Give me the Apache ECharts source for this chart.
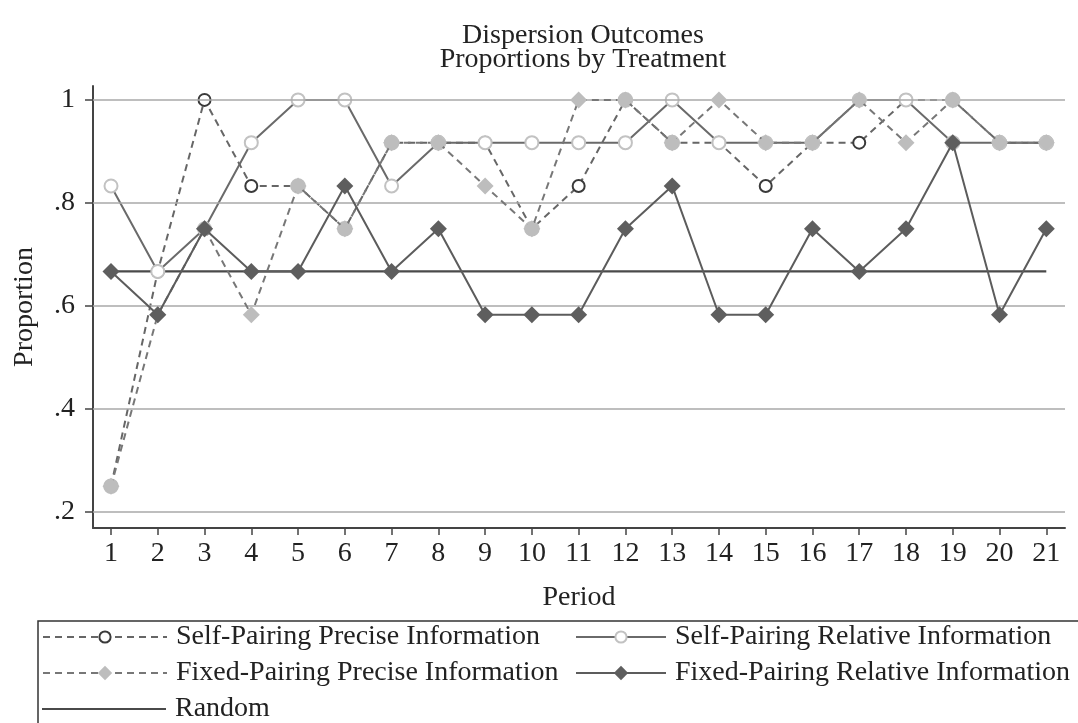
<!DOCTYPE html>
<html>
<head>
<meta charset="utf-8">
<title>Dispersion Outcomes</title>
<script src="https://cdn.jsdelivr.net/npm/echarts@6/dist/echarts.min.js"></script>
<style>
  html, body { margin: 0; padding: 0; background: #fff; }
  #chart { width: 1078px; height: 723px; }
</style>
</head>
<body>
<div id="chart"></div>
<script>
// Periods of the experiment
const periods = [1, 2, 3, 4, 5, 6, 7, 8, 9, 10, 11, 12, 13, 14, 15, 16, 17, 18, 19, 20, 21];

// Proportion of dispersed outcomes per period, by treatment
const selfPrecise   = [0.25, 0.667, 1, 0.833, 0.833, 0.75, 0.917, 0.917, 0.917, 0.75, 0.833, 1, 0.917, 0.917, 0.833, 0.917, 0.917, 1, 1, 0.917, 0.917];
const selfRelative  = [0.833, 0.667, 0.75, 0.917, 1, 1, 0.833, 0.917, 0.917, 0.917, 0.917, 0.917, 1, 0.917, 0.917, 0.917, 1, 1, 0.917, 0.917, 0.917];
const fixedPrecise  = [0.25, 0.583, 0.75, 0.583, 0.833, 0.75, 0.917, 0.917, 0.833, 0.75, 1, 1, 0.917, 1, 0.917, 0.917, 1, 0.917, 1, 0.917, 0.917];
const fixedRelative = [0.667, 0.583, 0.75, 0.667, 0.667, 0.833, 0.667, 0.75, 0.583, 0.583, 0.583, 0.75, 0.833, 0.583, 0.583, 0.75, 0.667, 0.75, 0.917, 0.583, 0.75];
const randomLevel   = [0.667, 0.667, 0.667, 0.667, 0.667, 0.667, 0.667, 0.667, 0.667, 0.667, 0.667, 0.667, 0.667, 0.667, 0.667, 0.667, 0.667, 0.667, 0.667, 0.667, 0.667];

// Axis ticks
const yTicks = [0.2, 0.4, 0.6, 0.8, 1];
const xTicks = periods;

const seriesNames = [
  'Self-Pairing Precise Information',
  'Self-Pairing Relative Information',
  'Fixed-Pairing Precise Information',
  'Fixed-Pairing Relative Information',
  'Random'
];

const FONT = '"Liberation Serif", "DejaVu Serif", serif';
const TEXT = '#222';
const LIGHT = '#bdbdbd';
const pairs = vals => periods.map((p, i) => [p, vals[i]]);

// Where the two precise-information series share a point, their markers
// merge into one light filled dot.
const selfPreciseData = periods.map((p, i) => {
  const v = selfPrecise[i];
  if (v === fixedPrecise[i]) {
    return { value: [p, v], symbol: 'circle', symbolSize: 14, itemStyle: { color: LIGHT, borderColor: LIGHT } };
  }
  return [p, v];
});

// One legend entry per key so the two-column layout stays fixed
function legendEntry(name, left, top, keyWidth, extra) {
  return Object.assign({
    data: [name],
    left: left, top: top,
    padding: 0,
    itemWidth: keyWidth, itemHeight: 14,
    textStyle: { fontFamily: FONT, fontSize: 28, color: TEXT, padding: [0, 0, 0, 4] }
  }, extra || {});
}

const chart = echarts.init(document.getElementById('chart'), null, { renderer: 'canvas' });

const dashed = { type: [7, 5] };

chart.setOption({
  animation: false,
  backgroundColor: '#ffffff',
  title: {
    text: 'Dispersion Outcomes\nProportions by Treatment',
    left: 578,
    textAlign: 'center',
    top: 19,
    textStyle: { fontFamily: FONT, fontSize: 28, fontWeight: 'normal', color: TEXT, lineHeight: 24 }
  },
  grid: { left: 93, right: 13, top: 86, bottom: 195, containLabel: false, outerBoundsMode: 'none' },
  xAxis: {
    type: 'value',
    min: 0.615,
    max: 21.4,
    name: 'Period',
    nameLocation: 'middle',
    nameGap: 56,
    nameTextStyle: { fontFamily: FONT, fontSize: 28, color: TEXT },
    axisLine: { show: true, onZero: false, lineStyle: { color: '#444', width: 2 } },
    axisTick: { show: true, length: 7, customValues: xTicks, lineStyle: { color: '#444', width: 1.5 } },
    axisLabel: { customValues: xTicks, margin: 12, fontFamily: FONT, fontSize: 28, color: TEXT },
    splitLine: { show: false }
  },
  yAxis: {
    type: 'value',
    min: 0.169,
    max: 1.027,
    name: 'Proportion',
    nameLocation: 'middle',
    nameGap: 54,
    nameTextStyle: { fontFamily: FONT, fontSize: 28, color: TEXT },
    axisLine: { show: true, onZero: false, lineStyle: { color: '#444', width: 2 } },
    axisTick: { show: true, length: 8, customValues: yTicks, lineStyle: { color: '#444', width: 1.5 } },
    axisLabel: {
      customValues: yTicks,
      margin: 18,
      fontFamily: FONT, fontSize: 28, color: TEXT,
      formatter: v => (v === 1 ? '1' : String(v).replace(/^0/, ''))
    },
    splitLine: { show: false }
  },
  legend: [
    legendEntry(seriesNames[0], 42, 623, 124),
    legendEntry(seriesNames[2], 42, 659, 124, { itemHeight: 18 }),
    legendEntry({ name: seriesNames[4], icon: 'rect' }, 42, 695, 124, { itemHeight: 2 }),
    legendEntry(seriesNames[1], 575, 623, 90),
    legendEntry(seriesNames[3], 575, 659, 90, { itemHeight: 18 })
  ],
  graphic: [
    {
      type: 'rect',
      shape: { x: 38, y: 621, width: 1100, height: 200 },
      style: { fill: 'none', stroke: '#333', lineWidth: 1.5 },
      silent: true
    }
  ],
  series: [
    {
      // horizontal grid lines at the y ticks
      type: 'line',
      data: [],
      silent: true,
      z: 1,
      markLine: {
        silent: true,
        symbol: 'none',
        label: { show: false },
        lineStyle: { color: '#a8a8a8', width: 1.5, type: 'solid' },
        data: yTicks.map(v => ({ yAxis: v }))
      }
    },
    {
      name: seriesNames[4],
      type: 'line',
      data: pairs(randomLevel),
      symbol: 'none',
      lineStyle: { color: '#4a4a4a', width: 2.2 },
      itemStyle: { color: '#4a4a4a' },
      z: 2
    },
    {
      name: seriesNames[0],
      type: 'line',
      data: selfPreciseData,
      symbol: 'emptyCircle',
      symbolSize: 12,
      lineStyle: Object.assign({ color: '#666', width: 2 }, dashed),
      itemStyle: { color: '#3a3a3a', borderWidth: 1.6 },
      z: 3
    },
    {
      name: seriesNames[1],
      type: 'line',
      data: pairs(selfRelative),
      symbol: 'emptyCircle',
      symbolSize: 13,
      lineStyle: { color: '#6a6a6a', width: 2 },
      itemStyle: { color: '#c2c2c2', borderWidth: 1.5 },
      z: 4
    },
    {
      name: seriesNames[2],
      type: 'line',
      data: pairs(fixedPrecise),
      symbol: 'diamond',
      symbolSize: 17,
      lineStyle: Object.assign({ color: '#777', width: 2 }, dashed),
      itemStyle: { color: LIGHT },
      z: 5
    },
    {
      name: seriesNames[3],
      type: 'line',
      data: pairs(fixedRelative),
      symbol: 'diamond',
      symbolSize: 17,
      lineStyle: { color: '#5c5c5c', width: 2 },
      itemStyle: { color: '#5e5e5e' },
      z: 6
    }
  ]
});
</script>
</body>
</html>
